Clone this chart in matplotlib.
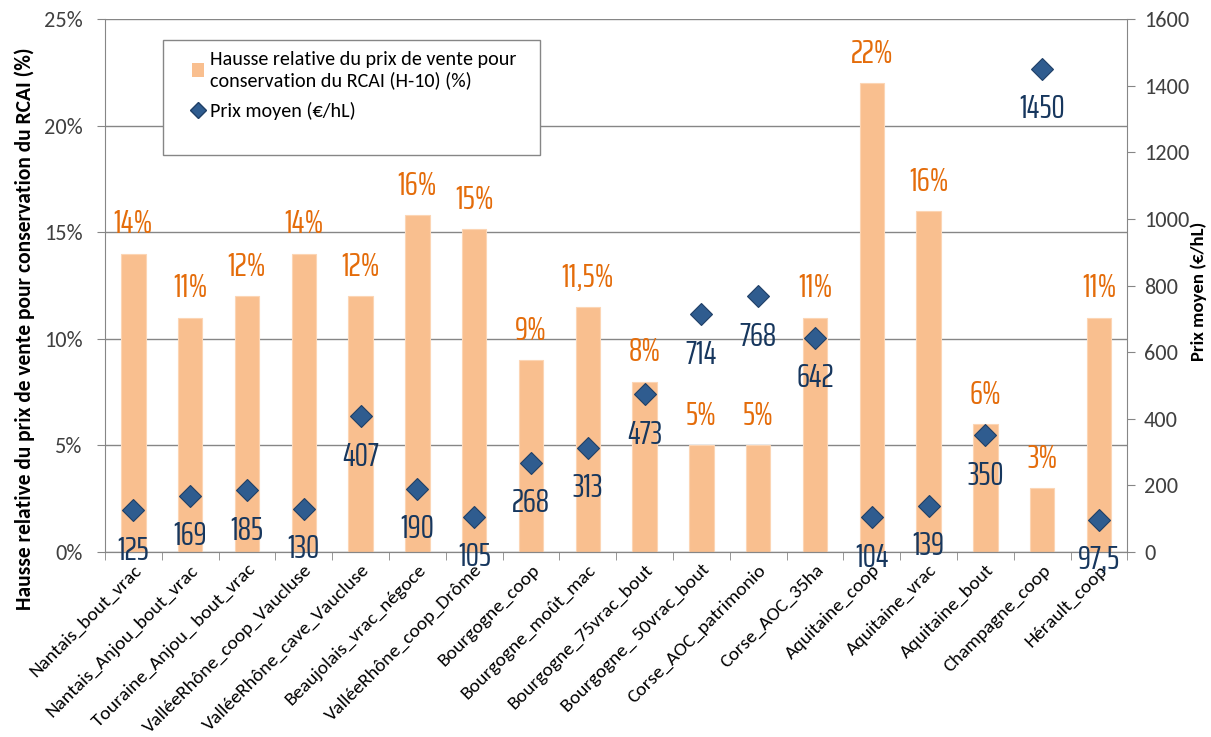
import matplotlib.pyplot as plt
import numpy as np
from matplotlib.lines import Line2D
from matplotlib.patches import Patch, Rectangle

# Data
categories = [
    "Nantais_bout_vrac", "Nantais_Anjou_bout_vrac", "Touraine_Anjou_ bout_vrac",
    "ValléeRhône_coop_Vaucluse", "ValléeRhône_cave_Vaucluse", "Beaujolais_vrac_négoce",
    "ValléeRhône_coop_Drôme", "Bourgogne_coop", "Bourgogne_moût_mac",
    "Bourgogne_75vrac_bout", "Bourgogne_ 50vrac_bout", "Corse_AOC_patrimonio",
    "Corse_AOC_35ha", "Aquitaine_coop", "Aquitaine_vrac", "Aquitaine_bout",
    "Champagne_coop", "Hérault_coop",
]
hausse_pct = [14, 11, 12, 14, 12, 15.8, 15.15, 9, 11.5, 8, 5, 5, 11, 22, 16, 6, 3, 11]
hausse_labels = ["14%", "11%", "12%", "14%", "12%", "16%", "15%", "9%", "11,5%",
                 "8%", "5%", "5%", "11%", "22%", "16%", "6%", "3%", "11%"]
prix_moyen = [125, 169, 185, 130, 407, 190, 105, 268, 313, 473, 714, 768, 642,
              104, 139, 350, 1450, 97.5]
prix_labels = ["125", "169", "185", "130", "407", "190", "105", "268", "313", "473",
               "714", "768", "642", "104", "139", "350", "1450", "97,5"]

bar_color = "#F9BF8F"
pct_color = "#E46C0A"
marker_color = "#2F5C8F"
prix_color = "#17375E"
axis_grey = "#868686"
text_grey = "#404040"
label_font = "Saira ExtraCondensed"
base_font = "Carlito"

plt.rcParams["font.family"] = [base_font, "DejaVu Sans"]

fig = plt.figure(figsize=(12.11, 7.37), dpi=100)
ax = fig.add_axes([0.0867, 0.251, 0.8443, 0.723])
ax2 = ax.twinx()

x = np.arange(len(categories))
ax.bar(x, hausse_pct, width=0.43, color=bar_color, edgecolor="#FCD5B4",
       linewidth=0.8, zorder=2)
ax.set_xlim(-0.5, len(categories) - 0.5)
ax.set_ylim(0, 25)
ax.set_yticks(np.arange(0, 26, 5))
ax.set_yticklabels([f"{v}%" for v in range(0, 26, 5)])
ax.yaxis.grid(True, color=axis_grey, linewidth=1.0, zorder=0)
ax.set_axisbelow(True)

for xi, v, lab in zip(x, hausse_pct, hausse_labels):
    ax.annotate(lab, (xi, v), xytext=(0, 21), textcoords="offset points",
                ha="center", va="center", color=pct_color, fontsize=24,
                family=label_font, zorder=5)

ax2.plot(x, prix_moyen, linestyle="none", marker="D", markersize=11,
         color=marker_color, markeredgecolor="#1F3F66", markeredgewidth=0.8,
         zorder=4)
ax2.set_ylim(0, 1600)
ax2.set_yticks(np.arange(0, 1601, 200))
for xi, v, lab in zip(x, prix_moyen, prix_labels):
    ax2.annotate(lab, (xi, v), xytext=(0, -29), textcoords="offset points",
                 ha="center", va="center", color=prix_color, fontsize=24,
                 family=label_font, zorder=5)

# x ticks: labels at centers, tick marks at category boundaries
ax.set_xticks(x)
ax.set_xticklabels(categories, rotation=45, ha="right", va="top",
                   rotation_mode="anchor", fontsize=14, color="black")
ax.tick_params(axis="x", which="major", length=0, pad=7)
ax.set_xticks(np.arange(-0.5, len(categories), 1), minor=True)
ax.tick_params(axis="x", which="minor", length=6, color=axis_grey, direction="out")

ax.tick_params(axis="y", length=6, color=axis_grey, labelsize=16,
               labelcolor=text_grey, pad=10)
ax2.tick_params(axis="y", length=6, color=axis_grey, labelsize=16,
                labelcolor=text_grey, pad=6)

for a in (ax, ax2):
    a.spines["top"].set_visible(False)
    for side in ("left", "right", "bottom"):
        a.spines[side].set_color(axis_grey)
ax2.spines["left"].set_visible(False)
ax.spines["right"].set_visible(False)

ax.set_ylabel("Hausse relative du prix de vente pour conservation du RCAI (%)",
              fontsize=15.5, fontweight="bold")
ax.yaxis.set_label_coords(-0.068, 0.42)
ax2.set_ylabel("Prix moyen (€/hL)", fontsize=13.5, fontweight="bold")
ax2.yaxis.set_label_coords(1.062, 0.49)

# Legend box
frame = Rectangle((0.057, 0.745), 0.368, 0.216, transform=ax.transAxes,
                  facecolor="white", edgecolor=axis_grey, linewidth=1.0, zorder=6)
ax2.add_patch(frame)
handles = [
    Patch(facecolor=bar_color, edgecolor="none"),
    Line2D([], [], linestyle="none", marker="D", markersize=8,
           color=marker_color, markeredgecolor="#1F3F66"),
]
labels = ["Hausse relative du prix de vente pour\nconservation du RCAI (H-10) (%)",
          "Prix moyen (€/hL)"]
leg = ax2.legend(handles, labels, loc="upper left", bbox_to_anchor=(0.077, 0.955),
                 bbox_transform=ax.transAxes, frameon=False, fontsize=14.5,
                 handlelength=0.6, handletextpad=0.3, labelspacing=0.65,
                 borderaxespad=0)
leg.set_zorder(7)

fig.savefig("out.png", dpi=100)
